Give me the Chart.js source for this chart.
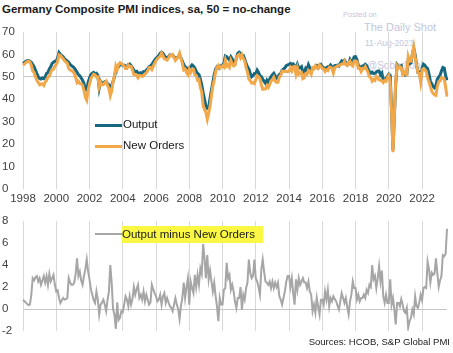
<!DOCTYPE html>
<html><head><meta charset="utf-8">
<script src="https://cdn.jsdelivr.net/npm/chart.js@4.4.0/dist/chart.umd.min.js"></script>
<style>
html,body{margin:0;padding:0;background:#fff;}
#wrap{position:relative;width:453px;height:353px;overflow:hidden;font-family:"Liberation Sans",Arial,sans-serif;}
canvas{position:absolute;left:0;}
.t{position:absolute;white-space:nowrap;}
.wm{position:absolute;white-space:nowrap;color:#c4c6e0;font-family:"Liberation Sans",Arial,sans-serif;}
</style></head><body>
<div id="wrap">
 <div class="t" style="left:2px;top:3px;font-weight:bold;font-size:11.5px;color:#1a1a1a">Germany Composite PMI indices, sa, 50 = no-change</div>
 <div class="wm" style="left:343px;top:10px;font-size:7.5px">Posted on</div>
 <div class="wm" style="left:364px;top:21px;font-size:11px">The Daily Shot</div>
 <div class="wm" style="left:365px;top:38px;font-size:8.5px">11-Aug-2023</div>
 <div class="wm" style="left:367px;top:60px;font-size:10px">@SoberLook</div>
 <canvas id="top" width="453" height="205" style="top:0;width:453px;height:205px"></canvas>
 <canvas id="bot" width="453" height="148" style="top:205px;width:453px;height:148px"></canvas>
 <div style="position:absolute;left:95px;top:124px;width:27px;height:3px;background:#17677f"></div>
 <div class="t" style="left:123px;top:118px;font-size:11.5px;color:#1a1a1a">Output</div>
 <div style="position:absolute;left:95px;top:145px;width:27px;height:3px;background:#f2a748"></div>
 <div class="t" style="left:123px;top:139px;font-size:11.5px;color:#1a1a1a">New Orders</div>
 <div style="position:absolute;left:95px;top:233px;width:27px;height:2px;background:#a6a6a6"></div>
 <div class="t" style="left:122px;top:226px;height:17px;line-height:17px;width:141px;background:#fbf844;font-size:11.5px;color:#1a1a1a">Output minus New Orders</div>
 <div class="t" style="right:3px;top:336px;font-size:9.5px;color:#222">Sources: HCOB, S&amp;P Global PMI</div>
</div>
<script>
const startYear = 1998;
const monthCount = 307; // Jan 1998 .. Jul 2023
const months = [];
for (let i = 0; i < monthCount; i++) {
  const y = startYear + Math.floor(i / 12), m = (i % 12) + 1;
  months.push(y + '-' + (m < 10 ? '0' + m : m));
}
const yearTicks = ['1998','2000','2002','2004','2006','2008','2010','2012','2014','2016','2018','2020','2022'];

const output = [
56.0,56.4,56.9,57.2,57.3,57.0,56.5,55.5,54.5,53.0,51.5,50.0,
49.3,49.0,49.5,49.2,50.0,51.5,52.0,53.5,54.5,56.0,56.5,57.0,
57.0,58.5,60.8,60.0,59.5,59.0,58.0,57.5,57.0,56.5,55.5,55.0,
54.5,54.0,53.0,52.0,51.0,50.5,49.5,48.5,47.0,44.5,44.1,47.5,
49.5,51.0,51.6,52.0,51.4,51.6,50.8,45.0,48.0,47.0,47.3,47.8,
47.8,47.0,46.5,45.6,46.0,48.0,50.0,53.0,53.8,54.5,55.5,55.7,
55.0,55.2,54.8,54.5,55.5,55.7,55.0,54.0,53.0,52.3,52.5,51.8,
51.6,51.8,51.0,52.3,52.0,53.0,53.5,54.5,54.8,55.5,56.5,57.5,
58.3,58.8,59.5,60.5,61.0,60.5,59.5,58.3,58.5,59.0,59.7,59.5,
59.7,59.0,58.3,58.5,59.0,59.7,58.5,57.0,55.5,54.5,54.0,53.8,
53.8,54.5,55.3,54.8,54.0,52.5,51.6,51.0,49.0,46.5,43.0,40.0,
37.0,36.0,36.5,40.5,44.1,47.5,51.0,53.5,54.5,54.0,54.8,55.0,
55.3,56.0,59.3,59.0,58.3,57.5,59.0,58.0,56.5,56.0,58.5,60.5,
61.0,60.5,59.7,59.5,58.0,56.0,54.5,53.5,51.6,50.0,50.5,51.5,
51.5,53.0,52.0,50.5,50.1,49.0,48.0,47.1,48.5,47.5,49.0,50.1,
51.0,51.6,50.5,49.5,50.0,51.0,51.5,53.0,53.5,54.0,55.0,55.3,
55.5,56.0,55.5,55.8,55.0,54.0,55.7,54.0,54.0,54.5,52.0,52.0,
53.8,53.0,55.4,54.0,52.5,53.8,54.0,54.5,55.0,54.0,54.9,55.5,
54.5,54.0,54.0,54.0,54.5,54.5,55.3,54.4,52.8,55.0,55.1,55.2,
54.8,56.1,57.1,56.7,57.4,56.4,55.3,55.8,57.7,56.6,57.3,58.9,
59.0,57.6,55.1,54.6,53.4,54.8,55.0,55.6,55.0,53.4,52.3,51.6,
52.1,51.5,51.4,52.2,52.6,52.6,50.9,51.7,48.5,48.9,49.4,50.2,
51.2,50.7,35.0,17.4,32.3,47.0,55.3,54.4,54.7,55.0,51.7,52.0,
50.8,51.1,57.3,55.8,56.2,60.1,62.8,60.0,55.5,52.0,52.2,49.0,
53.8,55.6,55.1,54.3,53.7,51.3,48.1,46.9,45.7,45.1,46.3,49.0,
49.9,50.7,52.6,54.2,53.9,50.6,48.5
];

const newOrders = [
55.2,55.7,56.3,56.8,57.0,56.6,55.2,52.7,51.9,50.1,48.5,47.5,
46.5,46.8,46.9,46.2,47.6,48.5,49.8,50.3,52.0,53.2,53.4,54.8,
55.4,56.8,59.8,59.5,58.7,58.0,57.2,56.6,56.0,53.7,53.1,52.8,
52.3,51.6,49.8,47.4,48.0,47.1,46.9,46.3,44.0,40.9,39.6,44.1,
46.8,49.2,50.3,51.2,50.9,50.0,50.0,45.5,47.6,46.4,46.5,47.4,
48.0,46.2,44.9,41.6,43.6,48.0,50.5,54.8,53.2,55.5,56.3,55.9,
55.3,54.8,53.7,53.7,55.3,54.6,54.6,53.1,51.0,51.0,50.7,49.6,
50.6,50.5,50.2,50.7,51.3,51.7,52.7,54.1,54.2,53.3,54.7,56.1,
57.2,58.1,58.7,59.2,60.6,59.4,58.1,57.8,57.5,58.4,59.5,59.4,
59.9,58.6,57.3,58.1,59.0,60.6,58.2,56.0,53.1,53.5,52.0,51.0,
53.4,52.0,53.4,53.4,50.9,50.5,48.5,48.8,45.3,43.3,37.1,35.4,
34.2,31.1,33.8,37.0,41.6,45.9,48.6,52.3,54.3,55.1,53.8,54.6,
54.9,54.3,57.4,54.8,55.5,54.4,57.3,55.8,54.9,55.3,58.4,59.5,
60.0,58.5,59.8,58.2,57.2,54.1,52.1,49.0,48.3,47.2,47.5,47.0,
48.7,50.5,50.0,49.2,46.5,44.5,44.6,44.6,46.1,45.3,46.5,48.2,
48.5,49.7,48.1,47.5,47.6,49.9,50.7,52.6,52.5,52.4,52.5,52.3,
52.5,54.0,52.7,54.4,54.6,51.3,54.0,51.2,51.8,52.0,49.2,49.6,
51.4,51.1,52.9,52.4,51.2,54.0,53.6,54.9,54.0,53.8,55.4,54.7,
53.7,53.6,52.4,53.2,52.8,54.3,54.3,53.7,51.7,54.1,54.4,54.9,
54.9,55.4,55.7,55.7,56.9,55.4,55.1,56.3,57.0,55.3,54.8,57.0,
57.1,56.8,53.8,53.9,52.4,53.8,53.7,54.6,53.3,52.0,50.1,49.6,
48.1,48.8,48.4,50.3,49.8,48.7,48.4,48.2,47.4,48.4,48.1,49.7,
50.7,48.0,34.6,16.4,32.4,48.4,54.8,53.9,54.5,54.1,51.3,52.2,
51.2,51.0,59.0,56.9,57.0,60.2,63.3,58.9,55.3,51.9,51.6,47.7,
53.0,53.7,53.1,52.4,49.4,47.7,45.7,43.6,42.6,41.9,41.7,45.7,
47.9,48.1,49.6,49.3,49.1,45.6,41.2
];

const outputMinusNewOrders = [
0.85,0.7,0.6,0.45,0.35,0.4,1.3,2.8,2.6,2.9,3.0,2.5,
2.8,2.2,2.6,3.0,2.4,3.0,2.2,3.2,2.5,2.8,3.1,2.2,
1.6,1.7,1.0,0.55,0.8,1.0,0.85,0.9,1.0,2.8,2.4,2.2,
2.2,2.4,3.2,4.6,3.0,3.4,2.6,2.2,3.0,3.6,4.5,3.4,
2.7,1.8,1.3,0.8,0.55,1.6,0.85,-0.5,0.4,0.6,0.85,0.4,
-0.2,0.8,1.6,4.0,2.4,0.0,-0.5,-1.8,0.6,-1.0,-0.8,-0.2,
-0.3,0.4,1.15,0.85,0.25,1.15,0.4,0.9,2.0,1.3,1.8,2.2,
1.0,1.3,0.85,1.6,0.7,1.3,0.85,0.4,0.6,2.2,1.8,1.45,
1.15,0.7,0.85,1.3,0.4,1.15,1.45,0.55,1.0,0.6,0.25,0.1,
-0.2,0.4,1.0,0.4,0.0,-0.9,0.3,1.0,2.4,1.0,2.0,2.8,
0.4,2.5,1.9,1.45,3.1,2.0,3.1,2.2,3.7,3.2,5.9,4.6,
2.8,4.9,2.7,3.5,2.5,1.6,2.4,1.2,0.25,-1.1,1.0,0.4,
0.4,1.75,1.9,4.2,2.8,3.1,1.75,2.2,1.6,0.7,0.1,1.0,
1.0,2.0,-0.05,1.3,0.85,1.9,2.4,4.5,3.3,2.8,3.0,4.5,
2.8,2.5,2.0,1.3,3.6,4.5,3.4,2.5,2.4,2.2,2.5,1.9,
2.5,1.9,2.4,2.0,2.4,1.15,0.85,0.4,1.0,1.6,2.5,3.0,
3.0,2.0,2.8,1.45,0.4,2.7,1.75,2.8,2.2,2.5,2.8,2.4,
2.4,1.9,2.5,1.6,1.3,-0.2,0.4,-0.35,1.0,0.2,-0.5,0.85,
0.85,0.4,1.6,0.85,1.75,0.25,1.0,0.7,1.15,0.9,0.7,0.3,
-0.05,0.7,1.45,1.0,0.55,1.0,0.2,-0.5,0.7,1.3,2.5,1.9,
1.9,0.85,1.3,0.7,1.0,1.0,1.3,1.0,1.75,1.45,2.2,2.0,
4.0,2.7,3.0,1.9,2.8,3.9,2.5,3.5,1.15,0.55,1.3,0.55,
0.55,2.7,0.4,1.0,-0.05,-1.4,0.55,0.55,0.25,0.9,0.4,-0.2,
-0.35,0.1,-1.7,-1.1,-0.8,-0.05,-0.5,1.15,0.25,0.1,0.6,1.3,
0.8,1.9,2.0,1.9,4.3,3.6,2.4,3.3,3.1,3.2,4.6,3.3,
2.0,2.6,3.0,4.9,4.8,5.0,7.3
];

const FONT = '"Liberation Sans", Arial, sans-serif';
const TICK_COLOR = '#404040';
const GRID = '#d9d9d9';

function isMajor(i) {
  const lab = months[i];
  if (!lab) return false;
  return lab.endsWith('-01') && yearTicks.includes(lab.slice(0, 4));
}

function xScale(showLabels) {
  return {
    type: 'category', offset: false,
    afterFit: s => { s.height = showLabels ? 16 : 0; },
    grid: { drawTicks: false, lineWidth: 1, color: ctx => isMajor(ctx.index) ? GRID : 'rgba(0,0,0,0)' },
    border: { display: false },
    ticks: {
      display: showLabels, autoSkip: false, maxRotation: 0, minRotation: 0, padding: 3,
      font: { size: 11.5, family: FONT }, color: TICK_COLOR,
      callback: (v, i) => isMajor(i) ? months[i].slice(0, 4) : ''
    }
  };
}

function yScale(min, max, step, refValue) {
  return {
    min: min, max: max,
    afterFit: s => { s.width = 21; },
    border: { display: false },
    grid: { drawTicks: false, lineWidth: 1, color: ctx => (ctx.tick && ctx.tick.value === refValue) ? '#c6c6c6' : 'rgba(0,0,0,0)' },
    ticks: { stepSize: step, crossAlign: 'far', padding: 0, font: { size: 11.5, family: FONT }, color: TICK_COLOR }
  };
}

new Chart(document.getElementById('top'), {
  type: 'line',
  data: {
    labels: months,
    datasets: [
      { label: 'New Orders', data: newOrders, borderColor: '#f2a748', borderWidth: 3, pointRadius: 0, tension: 0, order: 0 },
      { label: 'Output', data: output, borderColor: '#17677f', borderWidth: 3, pointRadius: 0, tension: 0, order: 1 }
    ]
  },
  options: {
    responsive: false, animation: false, events: [],
    layout: { padding: { left: 2, right: 6, top: 32, bottom: 0 } },
    plugins: { legend: { display: false }, tooltip: { enabled: false } },
    scales: { x: xScale(true), y: yScale(0, 70, 10, 50) }
  }
});

new Chart(document.getElementById('bot'), {
  type: 'line',
  data: {
    labels: months,
    datasets: [
      { label: 'Output minus New Orders', data: outputMinusNewOrders, borderColor: '#a6a6a6', borderWidth: 2, pointRadius: 0, tension: 0 }
    ]
  },
  options: {
    responsive: false, animation: false, events: [],
    layout: { padding: { left: 2, right: 6, top: 16, bottom: 22 } },
    plugins: { legend: { display: false }, tooltip: { enabled: false } },
    scales: { x: xScale(false), y: yScale(-2, 8, 2, 0) }
  }
});
</script>
</body></html>
